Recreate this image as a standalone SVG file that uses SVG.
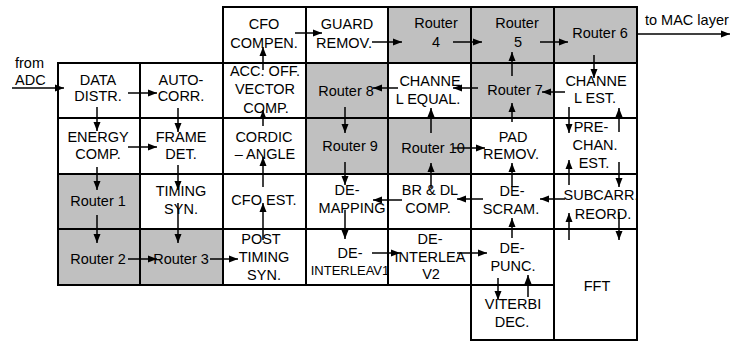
<svg xmlns="http://www.w3.org/2000/svg" width="734" height="346" viewBox="0 0 734 346">
<style>
.b{fill:#fff;stroke:#000;stroke-width:2}
.g{fill:#c0c0c0;stroke:#000;stroke-width:2}
text{font-family:"Liberation Sans",Arial,Helvetica,sans-serif;font-size:14.5px;text-anchor:middle;fill:#000}
.l{text-anchor:start}
.s{font-size:13px}
#conn line{stroke:#000;stroke-width:1.5;marker-end:url(#a)}
</style>
<defs>
<marker id="a" markerUnits="userSpaceOnUse" markerWidth="10" markerHeight="8" refX="9" refY="4" orient="auto"><path d="M0,0.5 L9,4 L0,7.5z" fill="#000"/></marker>
</defs>
<rect width="734" height="346" fill="#fff"/>
<g id="labels">
<text class="l" x="15" y="68">from</text>
<text class="l" x="15" y="85">ADC</text>
<text class="l" x="645" y="25">to MAC layer</text>
</g>
<g id="n_cfo_compen"><rect class="b" x="223" y="7" width="83" height="56"/><text x="264" y="29">CFO</text><text x="264" y="48">COMPEN.</text></g>
<g id="n_guard"><rect class="b" x="306" y="7" width="82" height="56"/><text x="347" y="29">GUARD</text><text x="344" y="48">REMOV.</text></g>
<g id="n_router4"><rect class="g" x="388" y="7" width="83" height="56"/><text x="436" y="28">Router</text><text x="436" y="47">4</text></g>
<g id="n_router5"><rect class="g" x="471" y="7" width="83" height="56"/><text x="517" y="28">Router</text><text x="518" y="47">5</text></g>
<g id="n_router6"><rect class="g" x="554" y="7" width="83" height="56"/><text x="600" y="38">Router 6</text></g>
<g id="n_data"><rect class="b" x="58" y="63" width="82" height="55"/><text x="98" y="85">DATA</text><text x="98" y="101">DISTR.</text></g>
<g id="n_auto"><rect class="b" x="140" y="63" width="83" height="55"/><text x="181" y="85">AUTO-</text><text x="181" y="101">CORR.</text></g>
<g id="n_acc"><rect class="b" x="223" y="63" width="83" height="55"/><text x="265" y="76">ACC. OFF.</text><text x="265" y="94">VECTOR</text><text x="266" y="113">COMP.</text></g>
<g id="n_router8"><rect class="g" x="306" y="63" width="82" height="55"/><text x="346" y="96">Router 8</text></g>
<g id="n_chequal"><rect class="b" x="388" y="63" width="83" height="55"/><text x="430" y="86">CHANNE</text><text x="428" y="104">L EQUAL.</text></g>
<g id="n_router7"><rect class="g" x="471" y="63" width="83" height="55"/><text x="515" y="95">Router 7</text></g>
<g id="n_chest"><rect class="b" x="554" y="63" width="83" height="55"/><text x="596" y="86">CHANNE</text><text x="595" y="103">L EST.</text></g>
<g id="n_energy"><rect class="b" x="58" y="118" width="82" height="56"/><text x="98" y="142">ENERGY</text><text x="98" y="159">COMP.</text></g>
<g id="n_frame"><rect class="b" x="140" y="118" width="83" height="56"/><text x="181" y="142">FRAME</text><text x="181" y="159">DET.</text></g>
<g id="n_cordic"><rect class="b" x="223" y="118" width="83" height="56"/><text x="264" y="142">CORDIC</text><text x="265" y="159">– ANGLE</text></g>
<g id="n_router9"><rect class="g" x="306" y="118" width="82" height="56"/><text x="350" y="151">Router 9</text></g>
<g id="n_router10"><rect class="g" x="388" y="118" width="83" height="56"/><text x="433" y="153">Router 10</text></g>
<g id="n_pad"><rect class="b" x="471" y="118" width="83" height="56"/><text x="513" y="142">PAD</text><text x="511" y="159">REMOV.</text></g>
<g id="n_prechan"><rect class="b" x="554" y="118" width="83" height="56"/><text x="591" y="132">PRE-</text><text x="595" y="150">CHAN.</text><text x="594" y="168">EST.</text></g>
<g id="n_router1"><rect class="g" x="58" y="174" width="82" height="55"/><text x="98" y="206">Router 1</text></g>
<g id="n_timing"><rect class="b" x="140" y="174" width="83" height="55"/><text x="181" y="196">TIMING</text><text x="181" y="214">SYN.</text></g>
<g id="n_cfoest"><rect class="b" x="223" y="174" width="83" height="55"/><text x="264" y="205">CFO EST.</text></g>
<g id="n_demap"><rect class="b" x="306" y="174" width="82" height="55"/><text x="347" y="195">DE-</text><text x="352" y="213">MAPPING</text></g>
<g id="n_brdl"><rect class="b" x="388" y="174" width="83" height="55"/><text x="430" y="195">BR &amp; DL</text><text x="428" y="213">COMP.</text></g>
<g id="n_descram"><rect class="b" x="471" y="174" width="83" height="55"/><text x="512" y="196">DE-</text><text x="511" y="214">SCRAM.</text></g>
<g id="n_subcarr"><rect class="b" x="554" y="174" width="83" height="55"/><text x="601" y="200">SUBCARR.</text><text x="603" y="219">REORD.</text></g>
<g id="n_router2"><rect class="g" x="58" y="229" width="82" height="56"/><text x="98" y="264">Router 2</text></g>
<g id="n_router3"><rect class="g" x="140" y="229" width="83" height="56"/><text x="181" y="264">Router 3</text></g>
<g id="n_post"><rect class="b" x="223" y="229" width="83" height="56"/><text x="261" y="244">POST</text><text x="264" y="262">TIMING</text><text x="264" y="280">SYN.</text></g>
<g id="n_deint1"><rect class="b" x="306" y="229" width="82" height="56"/><text x="350" y="258">DE-</text><text class="s" x="350" y="275">INTERLEAV1</text></g>
<g id="n_deint2"><rect class="b" x="388" y="229" width="83" height="56"/><text x="430" y="244">DE-</text><text x="430" y="262">INTERLEA</text><text x="431" y="279">V2</text></g>
<g id="n_depunc"><rect class="b" x="471" y="229" width="83" height="56"/><text x="512" y="253">DE-</text><text x="513" y="271">PUNC.</text></g>
<g id="n_fft"><rect class="b" x="554" y="229" width="83" height="111"/><text x="597" y="291">FFT</text></g>
<g id="n_viterbi"><rect class="b" x="471" y="285" width="83" height="55"/><text x="513" y="309">VITERBI</text><text x="512" y="327">DEC.</text></g>
<g id="conn">
<line x1="12" y1="88" x2="64" y2="88"/>
<line x1="128" y1="93" x2="157" y2="93"/>
<line x1="97" y1="107" x2="97" y2="131"/>
<line x1="178" y1="108" x2="178" y2="132"/>
<line x1="128" y1="147" x2="157" y2="147"/>
<line x1="97" y1="167" x2="97" y2="190"/>
<line x1="178" y1="165" x2="178" y2="190"/>
<line x1="97" y1="215" x2="97" y2="243"/>
<line x1="178" y1="203" x2="178" y2="243"/>
<line x1="128" y1="259" x2="157" y2="259"/>
<line x1="210" y1="259" x2="238" y2="259"/>
<line x1="263" y1="240" x2="263" y2="203"/>
<line x1="263" y1="187" x2="263" y2="157"/>
<line x1="263" y1="126" x2="263" y2="110"/>
<line x1="263" y1="70" x2="263" y2="47"/>
<line x1="295" y1="33" x2="322" y2="33"/>
<line x1="372" y1="42" x2="402" y2="42"/>
<line x1="453" y1="42" x2="482" y2="42"/>
<line x1="540" y1="42" x2="568" y2="42"/>
<line x1="637" y1="34" x2="730" y2="34"/>
<line x1="594" y1="55" x2="594" y2="78"/>
<line x1="565" y1="92" x2="542" y2="92"/>
<line x1="512" y1="76" x2="512" y2="52"/>
<line x1="478" y1="88" x2="453" y2="88"/>
<line x1="398" y1="88" x2="373" y2="88"/>
<line x1="345" y1="107" x2="345" y2="133"/>
<line x1="431" y1="133" x2="431" y2="108"/>
<line x1="345" y1="162" x2="345" y2="185"/>
<line x1="453" y1="148" x2="485" y2="148"/>
<line x1="431" y1="188" x2="431" y2="163"/>
<line x1="402" y1="200" x2="373" y2="200"/>
<line x1="483" y1="199" x2="457" y2="199"/>
<line x1="565" y1="199" x2="540" y2="199"/>
<line x1="345" y1="210" x2="345" y2="239"/>
<line x1="372" y1="253" x2="400" y2="253"/>
<line x1="457" y1="253" x2="487" y2="253"/>
<line x1="512" y1="238" x2="512" y2="218"/>
<line x1="512" y1="187" x2="512" y2="163"/>
<line x1="512" y1="122" x2="512" y2="103"/>
<line x1="569" y1="107" x2="569" y2="133"/>
<line x1="619" y1="132" x2="619" y2="108"/>
<line x1="569" y1="185" x2="569" y2="160"/>
<line x1="619" y1="162" x2="619" y2="187"/>
<line x1="619" y1="212" x2="619" y2="240"/>
<line x1="569" y1="240" x2="569" y2="213"/>
<line x1="498" y1="278" x2="498" y2="300"/>
<line x1="528" y1="297" x2="528" y2="275"/>
</g>
</svg>
